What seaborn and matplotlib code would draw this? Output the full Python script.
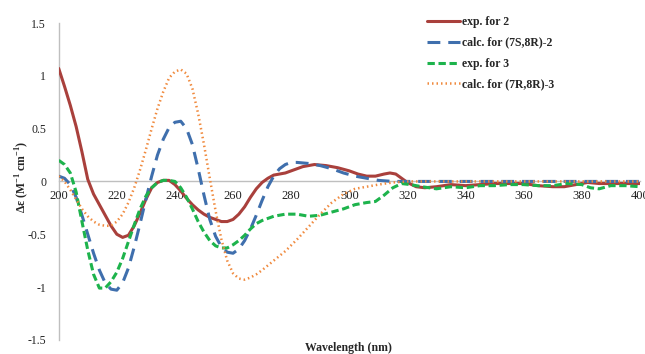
import numpy as np
import pandas as pd
import seaborn as sns
import matplotlib.pyplot as plt

# exp. for 2 (solid red)
wl_exp2 = [200, 202, 204, 206, 208, 210, 212, 214, 216, 218, 220, 222, 224, 226, 228, 230, 232, 234, 236, 238,
           240, 242, 244, 246, 248, 250, 252, 254, 256, 258, 260, 262, 264, 266, 268, 270, 272, 274, 276, 278,
           280, 284, 288, 292, 296, 300, 303, 306, 309, 312, 314, 316, 318, 320, 323, 326, 330, 335, 340, 345,
           350, 355, 360, 365, 370, 374, 378, 382, 386, 390, 395, 400]
de_exp2 = [1.07, 0.90, 0.72, 0.52, 0.28, 0.02, -0.12, -0.22, -0.32, -0.42, -0.50, -0.53, -0.51, -0.42, -0.30, -0.17, -0.06, -0.01, 0.01, 0.01,
           -0.03, -0.09, -0.16, -0.22, -0.27, -0.31, -0.34, -0.36, -0.38, -0.38, -0.36, -0.31, -0.24, -0.15, -0.07, -0.01, 0.03, 0.06, 0.07, 0.08,
           0.10, 0.14, 0.16, 0.15, 0.13, 0.10, 0.07, 0.05, 0.05, 0.07, 0.08, 0.07, 0.03, -0.01, -0.05, -0.06, -0.05, -0.03, -0.04, -0.03,
           -0.02, -0.02, -0.02, -0.04, -0.05, -0.05, -0.03, -0.01, -0.02, -0.02, -0.02, -0.02]

# calc. for (7S,8R)-2 (blue dashed)
wl_calc2 = [200, 202, 204, 206, 208, 210, 212, 214, 216, 218, 220, 222, 224, 226, 228, 230, 232, 234, 236, 238,
            240, 242, 244, 246, 248, 250, 252, 254, 256, 258, 260, 262, 264, 266, 268, 270, 272, 274, 276, 278,
            280, 282, 286, 290, 294, 298, 302, 306, 310, 315, 320, 330, 340, 350, 360, 370, 380, 390, 400]
de_calc2 = [0.05, 0.03, -0.03, -0.15, -0.32, -0.50, -0.68, -0.84, -0.96, -1.02, -1.03, -0.96, -0.82, -0.62, -0.40, -0.17, 0.05, 0.25, 0.40, 0.51,
            0.56, 0.57, 0.50, 0.35, 0.12, -0.13, -0.36, -0.52, -0.62, -0.67, -0.68, -0.64, -0.56, -0.45, -0.32, -0.18, -0.05, 0.05, 0.12, 0.16,
            0.18, 0.18, 0.17, 0.15, 0.12, 0.08, 0.05, 0.03, 0.01, 0.00, 0.00, 0.00, 0.00, 0.00, 0.00, 0.00, 0.00, 0.00, 0.00]

# exp. for 3 (green dashed)
wl_exp3 = [200, 202, 204, 206, 208, 210, 212, 214, 216, 218, 220, 222, 224, 226, 228, 230, 232, 234, 236, 238,
           240, 242, 244, 246, 248, 250, 252, 254, 256, 258, 260, 262, 264, 266, 268, 270, 274, 278, 282, 286,
           290, 294, 298, 302, 306, 309, 312, 315, 318, 321, 325, 330, 335, 340, 345, 350, 355, 360, 365, 370,
           375, 380, 383, 386, 390, 395, 400]
de_exp3 = [0.20, 0.16, 0.08, -0.10, -0.38, -0.65, -0.88, -1.01, -1.01, -0.95, -0.86, -0.73, -0.57, -0.41, -0.26, -0.14, -0.06, -0.01, 0.01, 0.01,
           0.00, -0.06, -0.15, -0.26, -0.38, -0.48, -0.56, -0.61, -0.63, -0.63, -0.60, -0.56, -0.51, -0.45, -0.40, -0.37, -0.33, -0.31, -0.31, -0.33,
           -0.32, -0.29, -0.26, -0.22, -0.20, -0.19, -0.13, -0.06, -0.02, -0.03, -0.05, -0.07, -0.05, -0.06, -0.04, -0.04, -0.03, -0.03, -0.04, -0.04,
           -0.02, -0.03, -0.06, -0.07, -0.04, -0.04, -0.05]

# calc. for (7R,8R)-3 (orange dotted)
wl_calc3 = [200, 202, 204, 206, 208, 210, 212, 214, 216, 218, 220, 222, 224, 226, 228, 230, 232, 234, 236, 238,
            240, 242, 244, 246, 248, 250, 252, 254, 256, 258, 260, 262, 264, 266, 268, 270, 274, 278, 282, 286,
            290, 294, 298, 302, 306, 310, 315, 320, 330, 340, 350, 360, 370, 380, 390, 400]
de_calc3 = [0.05, 0.00, -0.08, -0.17, -0.26, -0.33, -0.38, -0.41, -0.42, -0.42, -0.38, -0.31, -0.20, -0.06, 0.11, 0.30, 0.50, 0.69, 0.85, 0.98,
            1.04, 1.06, 1.02, 0.88, 0.64, 0.35, 0.03, -0.28, -0.55, -0.75, -0.87, -0.92, -0.93, -0.91, -0.88, -0.84, -0.75, -0.66, -0.55, -0.43,
            -0.31, -0.20, -0.12, -0.07, -0.05, -0.03, -0.01, 0.00, 0.00, 0.00, 0.00, 0.00, 0.00, 0.00, 0.00, 0.00]

labels = ["exp. for 2", "calc. for (7S,8R)-2", "exp. for 3", "calc. for (7R,8R)-3"]
colors = ["#A9403C", "#3F6FAD", "#1DB34C", "#F08A3E"]

sns.set_style("white")
plt.rcParams['font.family'] = ['Liberation Serif', 'DejaVu Serif']
plt.rcParams['mathtext.fontset'] = 'custom'
plt.rcParams['mathtext.rm'] = 'Liberation Serif:bold'
plt.rcParams['mathtext.bf'] = 'Liberation Serif:bold'

fig = plt.figure(figsize=(6.45, 3.54), dpi=100)
ax = fig.add_axes([0.091, 0.04, 0.901, 0.895])

series = [(wl_exp2, de_exp2), (wl_calc2, de_calc2), (wl_exp3, de_exp3), (wl_calc3, de_calc3)]
styles = [dict(linestyle='-', linewidth=2.2),
          dict(linestyle=(0, (4.2, 2.6)), linewidth=2.2),
          dict(linestyle=(0, (2.4, 1.2)), linewidth=2.2),
          dict(linestyle=(0, (0.6, 1.2)), linewidth=1.8)]

for (wl, de), lab, col, st in zip(series, labels, colors, styles):
    df = pd.DataFrame({'wl': wl, 'de': de})
    sns.lineplot(data=df, x='wl', y='de', ax=ax, color=col, label=lab, **st)

ax.set_xlim(200, 400)
ax.set_ylim(-1.5, 1.5)
ax.set_xticks(np.arange(200, 401, 20))
ax.set_yticks([-1.5, -1, -0.5, 0, 0.5, 1, 1.5])
ax.set_yticklabels(['-1.5', '-1', '-0.5', '0', '0.5', '1', '1.5'])

ax.spines['top'].set_visible(False)
ax.spines['right'].set_visible(False)
ax.spines['bottom'].set_position(('data', 0))
for s in ['left', 'bottom']:
    ax.spines[s].set_color('#BFBFBF')
    ax.spines[s].set_linewidth(1.0)
ax.spines['left'].set_zorder(0)
ax.spines['bottom'].set_zorder(0)
ax.tick_params(axis='both', colors='#BFBFBF', labelcolor='#222222', length=3, width=1)
ax.tick_params(axis='x', pad=3, labelsize=9)
ax.tick_params(axis='y', pad=6, labelsize=8.5)

ax.set_xlabel('')
ax.set_ylabel('')
fig.text(0.54, 0.017, 'Wavelength (nm)', ha='center', va='center', fontsize=8.5, fontweight='bold')
fig.text(0.034, 0.50, r'Δε (M$^{-1}$ cm$^{-1}$)', rotation=90, ha='center', va='center',
         fontsize=8.5, fontweight='bold')

ax.legend(loc='upper left', bbox_to_anchor=(0.645, 0.985), bbox_transform=fig.transFigure, frameon=False,
          prop={'weight': 'bold', 'size': 8.5}, handlelength=2.8, handletextpad=0.2, labelspacing=0.75)

fig.savefig('out.png', dpi=100)
